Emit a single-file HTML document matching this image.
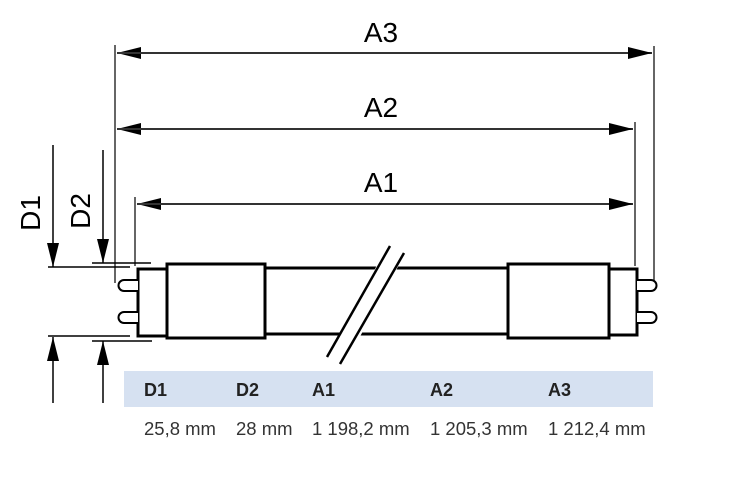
<!DOCTYPE html>
<html><head><style>
html,body{margin:0;padding:0;background:#fff;}
svg{display:block;}
</style></head><body>
<svg width="730" height="492" xmlns="http://www.w3.org/2000/svg">
<defs>
<marker id="ah" markerWidth="24" markerHeight="12" refX="24" refY="6" orient="auto" markerUnits="userSpaceOnUse">
<path d="M0,0 L24,6 L0,12 z" fill="#000"/></marker>
</defs>
<g stroke="#333" stroke-width="1.5" fill="none">
<line x1="115" y1="45" x2="115" y2="283"/>
<line x1="654" y1="46" x2="654" y2="283"/>
<line x1="635" y1="122" x2="635" y2="266"/>
<line x1="135" y1="197" x2="135" y2="266"/>
</g>
<g stroke="#333" stroke-width="2" fill="none">
<line x1="650" y1="53" x2="117" y2="53" marker-end="url(#ah)"/>
<line x1="117" y1="53" x2="652" y2="53" marker-end="url(#ah)"/>
<line x1="633" y1="129" x2="117" y2="129" marker-end="url(#ah)"/>
<line x1="117" y1="129" x2="633" y2="129" marker-end="url(#ah)"/>
<line x1="633" y1="204" x2="137" y2="204" marker-end="url(#ah)"/>
<line x1="137" y1="204" x2="633" y2="204" marker-end="url(#ah)"/>
</g>
<g stroke="#000" stroke-width="1.5" fill="none">
<line x1="53" y1="145" x2="53" y2="267" marker-end="url(#ah)"/>
<line x1="53" y1="403" x2="53" y2="337" marker-end="url(#ah)"/>
<line x1="103" y1="150" x2="103" y2="263" marker-end="url(#ah)"/>
<line x1="103" y1="403" x2="103" y2="341" marker-end="url(#ah)"/>
<line x1="48" y1="267" x2="130" y2="267"/>
<line x1="48" y1="336" x2="130" y2="336"/>
<line x1="92" y1="263" x2="151" y2="263"/>
<line x1="92" y1="341" x2="152" y2="341"/>
</g>
<g stroke="#000" stroke-width="3" fill="#fff">
<line x1="265" y1="268" x2="508" y2="268"/>
<line x1="265" y1="334" x2="508" y2="334"/>
<rect x="138" y="269" width="29" height="67"/>
<rect x="167" y="264" width="98" height="74"/>
<rect x="508" y="264" width="101" height="74"/>
<rect x="609" y="269" width="28" height="66"/>
</g>
<g stroke="#000" stroke-width="2" fill="#fff">
<path d="M138,280 H124 A5,5 0 0 0 124,291 H138"/>
<path d="M138,312 H124 A5,5 0 0 0 124,323 H138"/>
<path d="M637,280 H651 A5,5 0 0 1 651,291 H637"/>
<path d="M637,312 H651 A5,5 0 0 1 651,323 H637"/>
</g>
<polygon points="388,245 406,252 344,366 326,359" fill="#fff"/>
<g stroke="#000" stroke-width="2.5">
<line x1="390" y1="246" x2="327" y2="357"/>
<line x1="404" y1="253" x2="340" y2="364"/>
</g>
<g font-family="Liberation Sans, sans-serif" font-size="28" fill="#000">
<text x="381" y="42" text-anchor="middle">A3</text>
<text x="381" y="117" text-anchor="middle">A2</text>
<text x="381" y="192" text-anchor="middle">A1</text>
<text transform="translate(40,213) rotate(-90)" text-anchor="middle">D1</text>
<text transform="translate(90,211) rotate(-90)" text-anchor="middle">D2</text>
</g>
<rect x="124" y="371" width="529" height="36" fill="#d6e1f1"/>
<g font-family="Liberation Sans, sans-serif" font-size="18" font-weight="bold" fill="#222">
<text x="144" y="396">D1</text><text x="236" y="396">D2</text><text x="312" y="396">A1</text><text x="430" y="396">A2</text><text x="548" y="396">A3</text>
</g>
<g font-family="Liberation Sans, sans-serif" font-size="18.5" fill="#333">
<text x="144" y="435">25,8 mm</text><text x="236" y="435">28 mm</text><text x="312" y="435">1 198,2 mm</text><text x="430" y="435">1 205,3 mm</text><text x="548" y="435">1 212,4 mm</text>
</g>
</svg>
</body></html>
